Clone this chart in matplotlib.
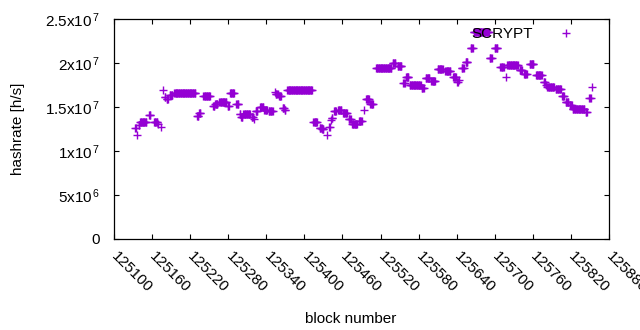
import numpy as np
import matplotlib
matplotlib.use("Agg")
import matplotlib.pyplot as plt

plt.rcParams['font.family'] = ['Liberation Sans', 'DejaVu Sans']
plt.rcParams['mathtext.fontset'] = 'custom'
plt.rcParams['mathtext.rm'] = 'Liberation Sans'
plt.rcParams['mathtext.it'] = 'Liberation Sans'

# runs of blocks with the same hashrate estimate (start block, end block, value)
run_start = [125133, 125137, 125139, 125141, 125155, 125163, 125170, 125174, 125177, 125180,
             125183, 125188, 125195, 125231, 125234, 125241, 125256, 125259, 125266, 125279,
             125283, 125293, 125298, 125300, 125304, 125317, 125320, 125323, 125330, 125337,
             125344, 125353, 125355, 125360, 125366, 125369, 125373, 125414, 125424, 125428,
             125436, 125439, 125442, 125443, 125447, 125453, 125461, 125470, 125475, 125486,
             125494, 125497, 125504, 125513, 125539, 125547, 125556, 125560, 125566, 125585,
             125591, 125600, 125610, 125622, 125634, 125641, 125644, 125648, 125654, 125662,
             125667, 125692, 125700, 125709, 125718, 125720, 125739, 125746, 125755, 125765,
             125777, 125780, 125783, 125796, 125806, 125812, 125818, 125823, 125843, 125849,
             125853]
run_end = [125134, 125137, 125140, 125151, 125157, 125168, 125170, 125174, 125177, 125181,
           125185, 125192, 125228, 125233, 125236, 125251, 125258, 125263, 125277, 125281,
           125289, 125296, 125299, 125302, 125314, 125319, 125320, 125326, 125335, 125341,
           125350, 125353, 125358, 125363, 125368, 125370, 125412, 125420, 125427, 125430,
           125436, 125440, 125442, 125444, 125450, 125458, 125467, 125473, 125483, 125490,
           125494, 125502, 125508, 125537, 125543, 125553, 125558, 125564, 125583, 125588,
           125597, 125606, 125618, 125630, 125639, 125642, 125644, 125651, 125657, 125665,
           125691, 125695, 125704, 125714, 125718, 125736, 125743, 125750, 125761, 125774,
           125779, 125780, 125793, 125804, 125809, 125816, 125821, 125841, 125845, 125851,
           125853]
run_value = [1.265, 1.18, 1.30, 1.333, 1.41, 1.333, 1.31, 1.27, 1.69, 1.61,
             1.59, 1.64, 1.655, 1.40, 1.43, 1.63, 1.51, 1.53, 1.56, 1.51,
             1.655, 1.53, 1.42, 1.39, 1.415, 1.39, 1.36, 1.45, 1.50, 1.47,
             1.455, 1.675, 1.645, 1.62, 1.485, 1.47, 1.69, 1.333, 1.26, 1.25,
             1.18, 1.27, 1.35, 1.38, 1.455, 1.465, 1.43, 1.36, 1.31, 1.345,
             1.465, 1.59, 1.53, 1.94, 2.00, 1.965, 1.77, 1.84, 1.75, 1.72,
             1.825, 1.79, 1.93, 1.91, 1.84, 1.78, 1.81, 1.94, 2.01, 2.175,
             2.35, 2.06, 2.175, 1.96, 1.84, 1.98, 1.92, 1.875, 1.985, 1.86,
             1.78, 1.75, 1.73, 1.70, 1.62, 1.56, 1.52, 1.477, 1.445, 1.60,
             1.73]

xticks = np.arange(125100, 125881, 60)
yticks = [0, 5e6, 1e7, 1.5e7, 2e7, 2.5e7]
ytick_labels = ['0', r'5x10$^{\,6}$', r'1x10$^{\,7}$', r'1.5x10$^{\,7}$',
                r'2x10$^{\,7}$', r'2.5x10$^{\,7}$']

blocks = np.concatenate([np.arange(s, e + 1) for s, e in zip(run_start, run_end)])
hashrate = np.concatenate([np.full(e - s + 1, v * 1e7) for s, e, v in zip(run_start, run_end, run_value)])

fig = plt.figure(figsize=(6.4, 3.3), dpi=100)
ax = fig.add_axes([114 / 640, 1 - 239 / 330, 495 / 640, 220 / 330])

ax.plot(blocks, hashrate, linestyle='none', marker='+', markersize=5.5,
        markeredgewidth=1.0, color='#9400D3', label='SCRYPT')

ax.set_xlim(125100, 125880)
ax.set_ylim(0, 2.5e7)
ax.set_xticks(xticks)
ax.set_xticklabels([str(t) for t in xticks], rotation=-45, ha='left', va='center',
                   rotation_mode='anchor')
ax.set_yticks(yticks)
ax.set_yticklabels(ytick_labels)

ax.tick_params(direction='in', length=3.5, width=0.8, top=True, right=True,
               labelsize=11, colors='black')
ax.tick_params(axis='x', pad=11)
ax.tick_params(axis='y', pad=10)
for s in ax.spines.values():
    s.set_linewidth(0.9)

ax.set_xlabel('block number', fontsize=11)
ax.set_ylabel('hashrate [h/s]', fontsize=11)
ax.xaxis.set_label_coords(0.479, -0.33)
ax.yaxis.set_label_coords(-0.18, 0.5)

ax.legend(loc='upper right', bbox_to_anchor=(0.945, 0.962), frameon=False,
          markerfirst=False, numpoints=1, handlelength=2.0, handletextpad=1.2,
          borderaxespad=0, borderpad=0, fontsize=11)

fig.savefig('out.png', dpi=100)
